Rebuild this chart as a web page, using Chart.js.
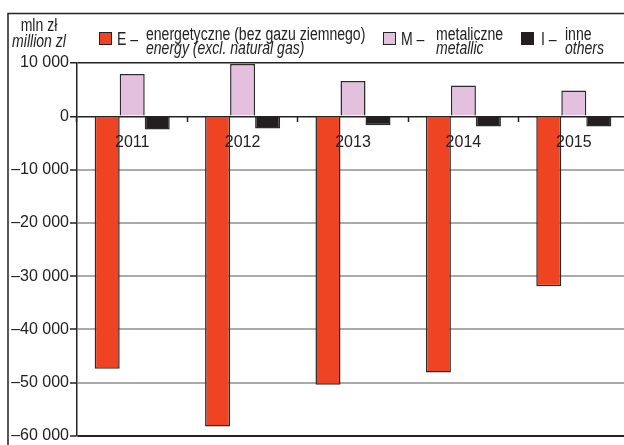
<!DOCTYPE html>
<html>
<head>
<meta charset="utf-8">
<script src="https://cdn.jsdelivr.net/npm/chart.js@4.4.1/dist/chart.umd.min.js"></script>
<style>
  html, body { margin: 0; padding: 0; background: #fff; overflow: hidden; }
  canvas { display: block; }
</style>
</head>
<body>
<canvas id="chart" width="640" height="445"></canvas>
<script>
// Trade balance by product group, mln zł
const years = ['2011', '2012', '2013', '2014', '2015'];
const energy = [-47400, -58200, -50400, -48100, -31900];
const metallic = [7950, 9830, 6600, 5760, 4850];
const others = [-2500, -2300, -1700, -1900, -1900];

const seriesCodes = ['E', 'M', 'I'];
const seriesNamesPl = ['energetyczne (bez gazu ziemnego)', 'metaliczne', 'inne'];
const seriesNamesEn = ['energy (excl. natural gas)', 'metallic', 'others'];
const seriesColors = ['#EE4424', '#E3C0DD', '#231F20'];

const yTickValues = [10000, 0, -10000, -20000, -30000, -40000, -50000, -60000];
const yTickLabels = ['10 000', '0', '–10 000', '–20 000', '–30 000', '–40 000', '–50 000', '–60 000'];

const unitPl = 'mln zł';
const unitEn = 'million zl';

const FONT = '"Liberation Sans", Arial, sans-serif';
const INK = '#222';
const NARROW = 0.78; // horizontal squeeze for the condensed header lettering

// Outer frame around the whole figure
const framePlugin = {
  id: 'frame',
  beforeDraw(chart) {
    const ctx = chart.ctx;
    ctx.save();
    ctx.strokeStyle = INK;
    ctx.lineWidth = 1.5;
    ctx.strokeRect(8, 13.5, chart.width + 20, chart.height + 20);
    ctx.restore();
  }
};

function condensedText(ctx, text, x, y, align, italic) {
  ctx.save();
  ctx.translate(x, y);
  ctx.scale(NARROW, 1);
  ctx.textAlign = align;
  ctx.textBaseline = 'alphabetic';
  ctx.font = (italic ? 'italic ' : '') + '18px ' + FONT;
  ctx.fillText(text, 0, 0);
  ctx.restore();
}

// Unit caption and bilingual legend above the plot
const legendSlots = [
  { box: 99, code: 117, text: 146 },
  { box: 383, code: 401, text: 436 },
  { box: 521, code: 541, text: 565 }
];

const headerPlugin = {
  id: 'header',
  afterDraw(chart) {
    const ctx = chart.ctx;
    ctx.save();
    ctx.fillStyle = INK;
    condensedText(ctx, unitPl, 39, 31, 'center', false);
    condensedText(ctx, unitEn, 39, 47, 'center', true);

    chart.data.datasets.forEach((ds, i) => {
      const slot = legendSlots[i];
      ctx.fillStyle = seriesColors[i];
      ctx.fillRect(slot.box, 32, 13, 13);
      ctx.strokeStyle = INK;
      ctx.lineWidth = 1;
      ctx.strokeRect(slot.box + 0.5, 32.5, 12, 12);
      ctx.fillStyle = INK;
      condensedText(ctx, seriesCodes[i] + ' –', slot.code, 45, 'left', false);
      condensedText(ctx, seriesNamesPl[i], slot.text, 40, 'left', false);
      condensedText(ctx, seriesNamesEn[i], slot.text, 54, 'left', true);
    });
    ctx.restore();
  }
};

const darkLines = [0, 10000, -60000];

new Chart(document.getElementById('chart'), {
  type: 'bar',
  data: {
    labels: years,
    datasets: [
      { label: seriesNamesPl[0], data: energy, backgroundColor: seriesColors[0] },
      { label: seriesNamesPl[1], data: metallic, backgroundColor: seriesColors[1] },
      { label: seriesNamesPl[2], data: others, backgroundColor: seriesColors[2] }
    ]
  },
  options: {
    responsive: false,
    animation: false,
    devicePixelRatio: 1,
    layout: { padding: { left: 0, right: 11, top: 63, bottom: 9 } },
    plugins: {
      legend: { display: false },
      tooltip: { enabled: false }
    },
    datasets: {
      bar: {
        categoryPercentage: 0.68,
        barPercentage: 1,
        borderWidth: 1.5,
        borderColor: '#2b2b2b'
      }
    },
    scales: {
      x: {
        position: { y: 0 },
        grid: {
          drawOnChartArea: false,
          offset: true,
          tickLength: 6,
          tickColor: INK,
          tickWidth: 1.5
        },
        border: { display: false },
        ticks: {
          z: 1,
          padding: 11,
          color: INK,
          font: { family: FONT, size: 16 }
        }
      },
      y: {
        min: -60000,
        max: 10000,
        afterFit(scale) { scale.width = 77; },
        afterBuildTicks(scale) { scale.ticks = yTickValues.map(v => ({ value: v })); },
        ticks: {
          padding: 1,
          color: INK,
          font: { family: FONT, size: 16, lineHeight: 1 },
          callback: (v) => yTickLabels[yTickValues.indexOf(v)]
        },
        grid: {
          color: (c) => (c.tick && darkLines.includes(c.tick.value)) ? INK : '#aaaaaa',
          lineWidth: (c) => (c.tick && c.tick.value === -60000) ? 2 : (c.tick && darkLines.includes(c.tick.value) ? 1.5 : 2),
          tickLength: 7,
          tickColor: INK,
          tickWidth: 1.5
        },
        border: { color: INK, width: 1.5 }
      }
    }
  },
  plugins: [framePlugin, headerPlugin]
});
</script>
</body>
</html>
